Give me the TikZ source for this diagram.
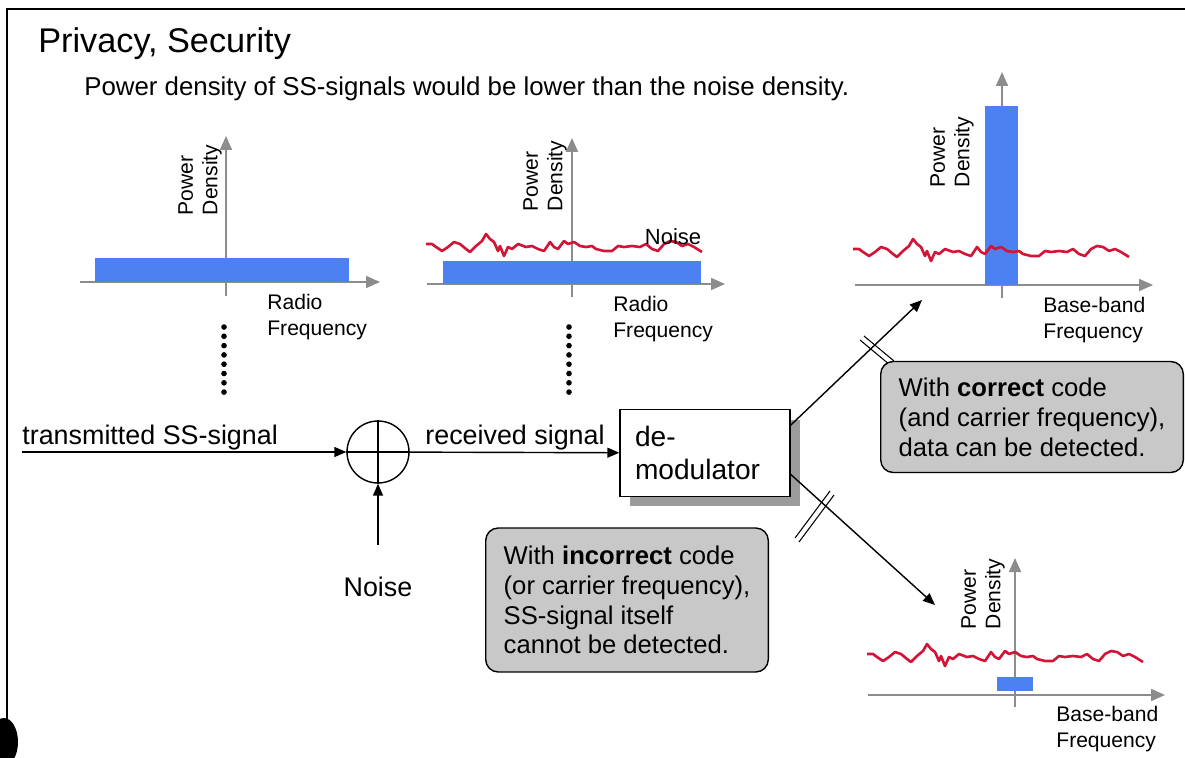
\documentclass[tikz,border=0pt]{standalone}
\usepackage{fontspec}
\setmainfont{Liberation Sans}
\usetikzlibrary{arrows.meta}
\usetikzlibrary{shadows}
\definecolor{bandblue}{RGB}{77,128,240}
\definecolor{noisered}{RGB}{210,20,55}
\definecolor{axisgray}{RGB}{140,140,140}
\definecolor{notegray}{RGB}{200,200,200}
\definecolor{shadegray}{RGB}{155,155,155}
\tikzset{
  axis/.style={draw=axisgray, line width=0.9pt, -{Triangle[length=0.28cm,width=0.24cm]}},
  band/.style={fill=bandblue, draw=none},
  noisy/.style={draw=noisered, line width=1.5pt, line join=round},
  sig/.style={draw, line width=0.8pt, -{Triangle[length=0.24cm,width=0.2cm]}},
  ylab/.style={rotate=90, align=left, font=\fontsize{12}{14}\selectfont, inner sep=0pt},
  xlab/.style={anchor=north west, align=left, font=\fontsize{12}{15}\selectfont, inner sep=0pt},
  flowlab/.style={font=\fontsize{15.3}{18}\selectfont, inner sep=0pt},
  note/.style={draw, line width=0.8pt, fill=notegray, rounded corners=0.25cm, align=left,
    font=\fontsize{14.6}{17}\selectfont, inner xsep=0.36cm},
  demodbox/.style={draw, fill=white, line width=0.8pt, minimum width=3.4cm, minimum height=1.74cm,
    text width=2.8cm, align=left, font=\fontsize{16}{19}\selectfont,
    general shadow={fill=shadegray, shadow xshift=0.2cm, shadow yshift=-0.2cm}},
  pics/noise/.style={code={
    \draw[noisy] plot coordinates {(0,0) (6,0) (10,3) (16,7) (22,3) (28,-2) (34,0) (40,5) (44,8)
      (50,2) (56,-3) (60,-10) (64,-5) (68,-2) (72,7) (74,2) (78,12) (82,3) (86,5) (92,0) (100,3)
      (106,2) (112,5) (118,7) (124,-2) (128,3) (132,5) (138,-3) (142,0) (148,-2) (154,2) (160,3)
      (166,2) (170,5) (178,7) (186,7) (192,2) (198,3) (206,2) (214,3) (220,0) (226,5) (232,7)
      (238,0) (244,-3) (250,-2) (256,2) (262,0) (268,3) (276,8)};
  }}
}
\begin{document}
\begin{tikzpicture}[x=0.02cm, y=-0.02cm]
  \useasboundingbox (0,0) rectangle (1185,757);
  \draw[line width=1.7pt] (7,757) -- (7,9) -- (1185,9);
  \fill (4,742) ellipse (14 and 24);

  \node[anchor=base west, font=\fontsize{19.5}{23}\selectfont, inner sep=0pt] (title) at (38,52) {Privacy, Security};
  \node[anchor=base west, font=\fontsize{14.7}{17}\selectfont, inner sep=0pt] (claim) at (84,95) {Power density of SS-signals would be lower than the noise density.};

  \draw[axis] (80,282) -- (380,282);
  \draw[axis] (226,296) -- (226,136);
  \fill[band] (95,258) rectangle (349,281.5);
  \node[ylab] (pd1) at (200,180) {Power\\Density};
  \node[xlab] (rf1) at (267,294) {Radio\\Frequency};
  \foreach \k in {0,...,7}
    \fill (224,{327+9.3*\k}) circle (1.6pt);

  \draw[axis] (427,284) -- (725,284);
  \draw[axis] (572,297) -- (572,138);
  \fill[band] (443,261) rectangle (701,283.5);
  \pic at (426,244) {noise};
  \node[font=\fontsize{12.5}{15}\selectfont] (nlab) at (673,237) {Noise};
  \node[ylab] (pd2) at (545,176) {Power\\Density};
  \node[xlab] (rf2) at (613,296) {Radio\\Frequency};
  \foreach \k in {0,...,7}
    \fill (569,{327+9.3*\k}) circle (1.6pt);

  \draw[axis] (855,285) -- (1153,285);
  \draw[axis] (1002,298) -- (1002,72);
  \fill[band] (985,106) rectangle (1018,284.5);
  \pic at (853,249) {noise};
  \node[ylab] (pd3) at (952,152) {Power\\Density};
  \node[xlab] (bb3) at (1043,297) {Base-band\\Frequency};

  \draw[axis] (868,695) -- (1165,695);
  \draw[axis] (1015,707) -- (1015,558);
  \fill[band] (997,677) rectangle (1033,691);
  \pic at (867,654) {noise};
  \node[ylab] (pd4) at (983,594) {Power\\Density};
  \node[xlab] (bb4) at (1056,706) {Base-band\\Frequency};

  \coordinate (txin) at (22,452);
  \coordinate (noisein) at (378,545);
  \coordinate (okend) at (922,300);
  \coordinate (badend) at (935,605);
  \node[circle, draw, line width=0.8pt, minimum size=1.24cm, inner sep=0pt] (sum) at (378,452) {};
  \draw[line width=0.8pt] (sum.north) -- (sum.south);
  \draw[line width=0.8pt] (sum.west) -- (sum.east);
  \node[demodbox] (demod) at (705,453) {de-\\modulator};
  \node[flowlab, anchor=base west] (txlab) at (22,444) {transmitted SS-signal};
  \node[flowlab, anchor=base west] (rxlab) at (425,444) {received signal};
  \node[flowlab] (noiselab) at (378,587) {Noise};

  \draw[sig] (txin) -- (sum);
  \draw[sig] (noisein) -- (sum);
  \draw[sig] (sum) -- (demod);
  \draw[sig] (demod.18) -- (okend);
  \draw[sig] (demod.-14) -- (badend);
  \draw[line width=0.6pt] (860,340) -- (890,365);
  \draw[line width=0.6pt] (864,336) -- (894,361);
  \draw[line width=0.6pt] (830,491) -- (795,538);
  \draw[line width=0.6pt] (834,495) -- (799,542);

  \node[note, minimum height=2.22cm] (oknote) at (1032,417) {With \textbf{correct} code\\(and carrier frequency),\\data can be detected.};
  \node[note, minimum height=2.88cm] (badnote) at (627,600) {With \textbf{incorrect} code\\(or carrier frequency),\\SS-signal itself\\cannot be detected.};
\end{tikzpicture}
\end{document}
